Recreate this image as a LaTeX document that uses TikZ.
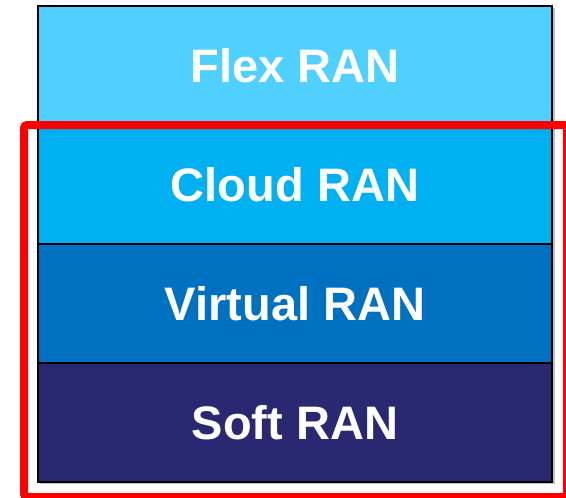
\documentclass[tikz,border=0pt]{standalone}
\usepackage{fontspec}
\setmainfont{Liberation Sans}
\usetikzlibrary{positioning}
\definecolor{flex_cyan}{RGB}{80,208,255}
\definecolor{cloud_blue}{RGB}{0,176,240}
\definecolor{virtual_blue}{RGB}{0,112,192}
\definecolor{soft_navy}{RGB}{41,40,113}
\definecolor{frame_red}{RGB}{255,0,0}

\begin{document}
\begin{tikzpicture}[x=1pt,y=-1pt]
    \tikzstyle{layer}=[draw=black, line width=1.5pt, rectangle, minimum width=514pt, minimum height=119pt, inner sep=0pt, outer sep=0pt, text=white, font=\fontsize{47}{56}\selectfont\bfseries]
    \tikzstyle{frame}=[draw=frame_red, line width=8pt, rounded corners=3pt]

    \clip (0,0) rectangle (566,498);
    % shadow under the stack
    \fill[black!25] (40,8) rectangle (554.5,484);

    \node[layer, fill=flex_cyan] (flex) at (295,65.5) {Flex RAN};
    \node[layer, fill=cloud_blue, below=0pt of flex] (cloud) {Cloud RAN};
    \node[layer, fill=virtual_blue, below=0pt of cloud] (virtual) {Virtual RAN};
    \node[layer, fill=soft_navy, below=0pt of virtual] (soft) {Soft RAN};

    \draw[frame] (24,125) rectangle (567,497);
  \end{tikzpicture}
\end{document}
